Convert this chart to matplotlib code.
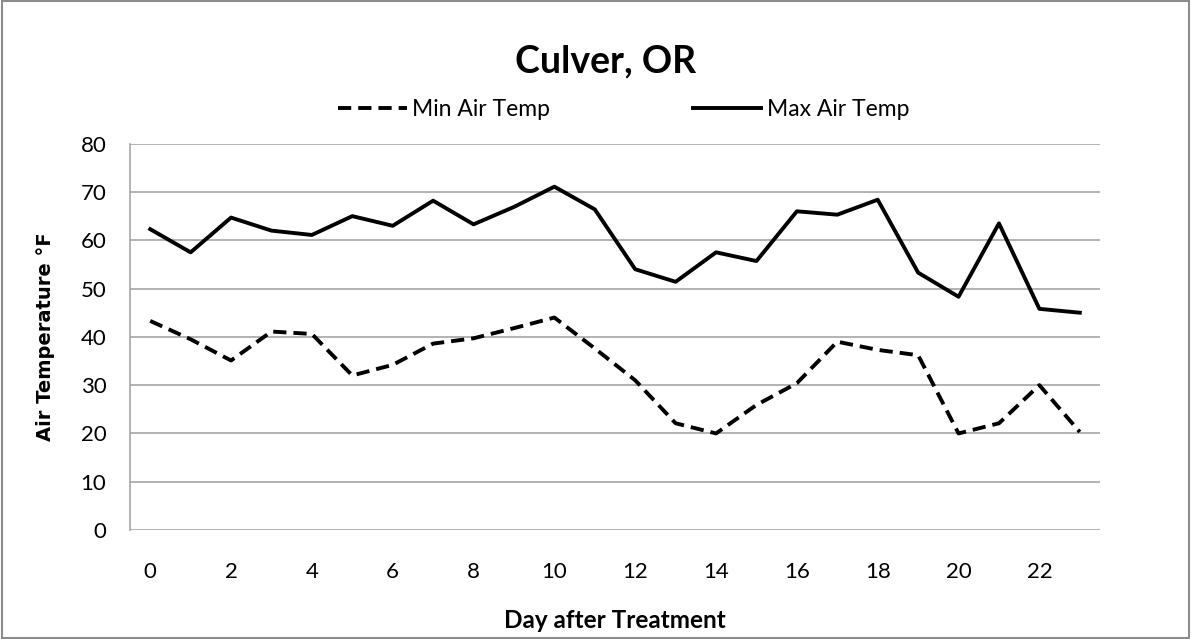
import matplotlib
matplotlib.use("Agg")
import matplotlib.pyplot as plt
from matplotlib.patches import Rectangle

days = list(range(24))
max_temp = [62.3, 57.5, 64.7, 62.0, 61.1, 65.0, 63.0, 68.2, 63.3, 66.9, 71.1, 66.4,
            54.0, 51.4, 57.5, 55.7, 66.0, 65.3, 68.4, 53.3, 48.3, 63.5, 45.8, 45.0]
min_temp = [43.3, 39.5, 35.1, 41.1, 40.6, 32.0, 34.2, 38.6, 39.7, 41.8, 44.0, 37.6,
            31.0, 22.1, 20.0, 25.9, 30.4, 39.0, 37.3, 36.2, 20.0, 22.1, 30.0, 20.3]
xtick_labels = [str(d) for d in range(0, 24, 2)]
yticks = list(range(0, 81, 10))

plt.rcParams['font.family'] = ['Lato', 'DejaVu Sans']

W, H = 1191, 639
fig = plt.figure(figsize=(W / 100, H / 100), dpi=100)
ax = fig.add_axes([130 / W, 1 - 530 / H, 970 / W, (530 - 143.7) / H])

ax.plot(days, min_temp, color='black', lw=2.8, linestyle=(0, (3.4, 1.8)), label='Min Air Temp')
ax.plot(days, max_temp, color='black', lw=2.8, label='Max Air Temp')

ax.set_xlim(-0.5, 23.5)
ax.set_ylim(0, 80)
ax.set_yticks(yticks)
ax.set_xticks(range(0, 24, 2))
ax.set_xticklabels(xtick_labels)
ax.grid(axis='y', color='#a6a6a6', lw=1.2)
ax.set_axisbelow(True)
for s in ['top', 'right', 'bottom']:
    ax.spines[s].set_visible(False)
ax.spines['left'].set_color('#a6a6a6')
ax.spines['left'].set_linewidth(1.2)
ax.tick_params(length=0, labelsize=16)
ax.tick_params(axis='y', pad=17)
ax.tick_params(axis='x', pad=23)

fig.text(46 / W, 1 - 337 / H, 'Air Temperature °F', rotation=90, ha='center', va='center',
         fontsize=14, fontweight='bold', family='DejaVu Sans')
fig.text(615 / W, 1 - 620 / H, 'Day after Treatment', ha='center', va='center',
         fontsize=17.5, fontweight='bold')
fig.text(0.5 + 10 / W, 1 - 61 / H, 'Culver, OR', ha='center', va='center', fontsize=27, fontweight='bold')

leg = fig.legend(loc='center left', bbox_to_anchor=(338 / W, 1 - 110 / H), ncol=2, frameon=False,
                 fontsize=16.5, handlelength=3.0, handletextpad=0.25, columnspacing=6.2,
                 borderpad=0, borderaxespad=0)

fig.patches.append(Rectangle((0.002, 0.002), 0.996, 0.996, transform=fig.transFigure,
                             fill=False, edgecolor='#8c8c8c', lw=1.5))

fig.savefig('out.png', dpi=100)
